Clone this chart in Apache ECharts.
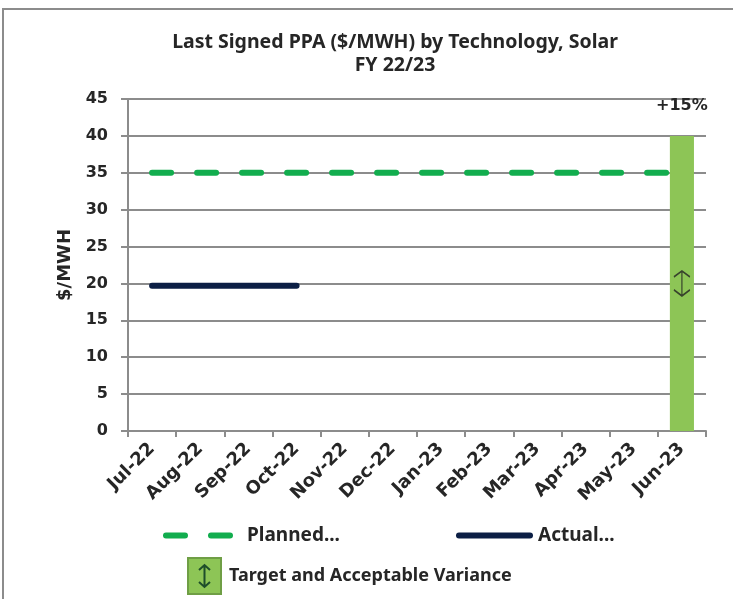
<!DOCTYPE html>
<html>
<head>
<meta charset="utf-8">
<script src="https://cdn.jsdelivr.net/npm/echarts@6/dist/echarts.min.js"></script>
<style>
  html, body { margin: 0; padding: 0; background: #fff; }
  #echart_main { width: 733px; height: 599px; }
</style>
</head>
<body>
<div id="echart_main"></div>
<script>
// 数据
var months = ['Jul-22', 'Aug-22', 'Sep-22', 'Oct-22', 'Nov-22', 'Dec-22', 'Jan-23', 'Feb-23', 'Mar-23', 'Apr-23', 'May-23', 'Jun-23'];
var planned = [35, 35, 35, 35, 35, 35, 35, 35, 35, 35, 35, 35];
var actual = [19.7, 19.7, 19.7, 19.7, null, null, null, null, null, null, null, null];
var target = [null, null, null, null, null, null, null, null, null, null, null, 40];
var targetMid = [['Jun-23', 20]];
var targetLabel = '+15%';
var yTicks = { min: 0, max: 45, interval: 5 };

var txt = '#262626';
var gridGray = '#8c8c8c';
var tickFont = 'DejaVu Sans';
var titleFont = 'Noto Sans';
var arrowPath = 'path://M0,6L8,0L16,6M8,0L8,25M0,19L8,25L16,19';
// 图例图标
var dashIcon = 'path://M3,0h19a3,3 0 0 1 0,6h-19a3,3 0 0 1 0,-6z M48,0h19a3,3 0 0 1 0,6h-19a3,3 0 0 1 0,-6z';
var solidIcon = 'path://M3,0h71a3,3 0 0 1 0,6h-71a3,3 0 0 1 0,-6z';
var legendSvg = '<svg xmlns="http://www.w3.org/2000/svg" width="35" height="38" viewBox="0 0 35 38">' +
    '<rect x="1" y="1" width="33" height="36" fill="#8dc556" stroke="#6f9e45" stroke-width="2"/>' +
    '<path d="M12,13 L17.5,8 L23,13 M17.5,8 L17.5,30 M12,25 L17.5,30 L23,25" fill="none" stroke="#1d4d2a" stroke-width="2"/>' +
    '</svg>';
var legendIcon = 'image://data:image/svg+xml;charset=utf-8,' + encodeURIComponent(legendSvg);

function drawChart() {
    var myChart = echarts.init(document.getElementById('echart_main'));
    var legendText = { color: txt, fontFamily: titleFont, fontWeight: 'bold', fontSize: 18 };
    var option = {
        backgroundColor: '#fff',
        animation: false,
        title: {
            text: 'Last Signed PPA ($/MWH) by Technology, Solar\nFY 22/23',
            left: 390,
            top: 26,
            textAlign: 'center',
            textStyle: {
                color: txt,
                fontFamily: titleFont,
                fontWeight: 'bold',
                fontSize: 19.5,
                lineHeight: 23
            }
        },
        graphic: [{
            type: 'rect',
            shape: { x: 3, y: 9, width: 800, height: 700 },
            style: { fill: 'none', stroke: gridGray, lineWidth: 2 },
            silent: true
        }],
        legend: [{
            data: [{ name: 'Planned...', icon: dashIcon }],
            left: 163,
            top: 526,
            padding: 0,
            itemWidth: 70,
            itemHeight: 6,
            textStyle: Object.assign({ padding: [0, 0, 0, 9] }, legendText, { fontSize: 19 })
        }, {
            data: [{ name: 'Actual...', icon: solidIcon }],
            left: 456,
            top: 526,
            padding: 0,
            itemWidth: 77,
            itemHeight: 6,
            textStyle: Object.assign({}, legendText, { fontSize: 19 })
        }, {
            data: [{ name: 'Target and Acceptable Variance', icon: legendIcon }],
            left: 187,
            top: 557,
            padding: 0,
            itemWidth: 35,
            itemHeight: 38,
            textStyle: Object.assign({ padding: [0, 0, 0, 2] }, legendText)
        }],
        grid: {
            left: 128,
            right: 27,
            top: 99,
            bottom: 168
        },
        xAxis: {
            type: 'category',
            data: months,
            boundaryGap: true,
            axisLine: { lineStyle: { color: gridGray, width: 2 } },
            axisTick: { show: true, length: 6, lineStyle: { color: gridGray, width: 2 } },
            axisLabel: {
                rotate: 45,
                margin: 15,
                color: txt,
                fontFamily: tickFont,
                fontWeight: 'bold',
                fontSize: 18,
                interval: 0
            },
            splitLine: { show: false }
        },
        yAxis: {
            type: 'value',
            min: yTicks.min,
            max: yTicks.max,
            interval: yTicks.interval,
            name: '$/MWH',
            nameLocation: 'middle',
            nameGap: 54,
            nameRotate: 90,
            nameTextStyle: {
                color: txt,
                fontFamily: tickFont,
                fontWeight: 'bold',
                fontSize: 18
            },
            axisLine: { show: true, lineStyle: { color: gridGray, width: 2 } },
            axisTick: { show: true, length: 7, lineStyle: { color: gridGray, width: 2 } },
            axisLabel: {
                margin: 20,
                color: txt,
                fontFamily: tickFont,
                fontWeight: 'bold',
                fontSize: 16
            },
            splitLine: { show: true, lineStyle: { color: gridGray, width: 2 } }
        },
        series: [{
            name: 'Planned...',
            type: 'line',
            data: planned,
            symbol: 'none',
            color: '#12ad4e',
            lineStyle: { color: '#12ad4e', width: 6, type: [19, 26], cap: 'round' },
            z: 3
        }, {
            name: 'Actual...',
            type: 'line',
            data: actual,
            symbol: 'none',
            color: '#0c1f45',
            lineStyle: { color: '#0c1f45', width: 6, cap: 'round' },
            z: 3
        }, {
            name: 'Target and Acceptable Variance',
            type: 'bar',
            data: target,
            barWidth: '50%',
            color: '#8dc556',
            itemStyle: { color: '#8dc556' },
            label: {
                show: true,
                position: 'top',
                distance: 22,
                formatter: targetLabel,
                color: txt,
                fontFamily: tickFont,
                fontWeight: 'bold',
                fontSize: 16
            },
            z: 4
        }, {
            name: 'arrow',
            type: 'scatter',
            data: targetMid,
            symbol: arrowPath,
            symbolSize: [16, 25],
            itemStyle: { color: 'rgba(0,0,0,0)', borderColor: '#222', borderWidth: 1.5 },
            z: 5,
            silent: true
        }]
    };
    myChart.setOption(option);
    window.onresize = function () {
        myChart.resize();
    }
}

drawChart();
</script>
</body>
</html>
